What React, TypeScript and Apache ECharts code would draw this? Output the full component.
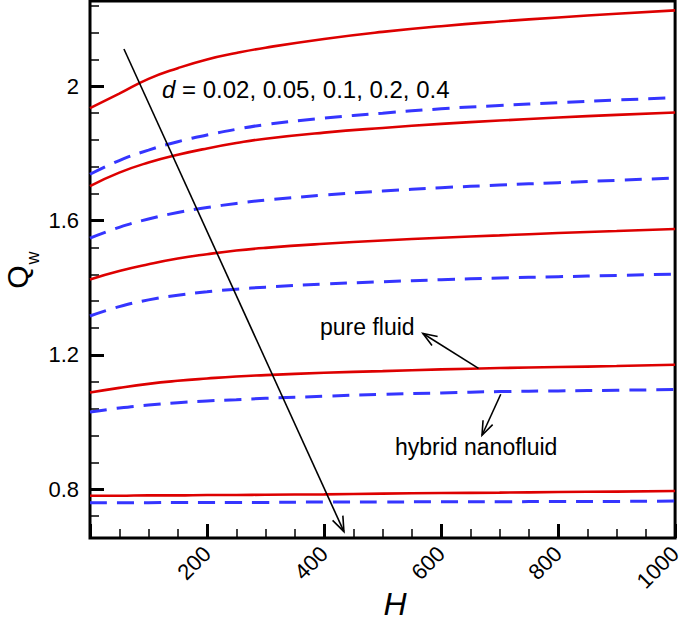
import React, { useEffect, useRef } from "react";
import * as echarts from "echarts";

const H = [0, 50, 100, 150, 200, 250, 300, 400, 500, 600, 700, 800, 900, 1000];

const pureD002 = [1.935, 1.978, 2.022, 2.054, 2.08, 2.099, 2.115, 2.141, 2.162, 2.179, 2.193, 2.205, 2.216, 2.226];
const hybridD002 = [1.738, 1.779, 1.81, 1.835, 1.855, 1.872, 1.886, 1.905, 1.92, 1.933, 1.943, 1.951, 1.959, 1.966];
const pureD005 = [1.703, 1.743, 1.773, 1.796, 1.815, 1.831, 1.844, 1.862, 1.876, 1.888, 1.898, 1.907, 1.915, 1.922];
const hybridD005 = [1.548, 1.58, 1.605, 1.624, 1.639, 1.651, 1.661, 1.676, 1.688, 1.698, 1.706, 1.713, 1.72, 1.727];
const pureD01 = [1.425, 1.45, 1.47, 1.487, 1.5, 1.511, 1.519, 1.531, 1.541, 1.549, 1.556, 1.563, 1.569, 1.575];
const hybridD01 = [1.316, 1.344, 1.364, 1.378, 1.388, 1.396, 1.402, 1.411, 1.418, 1.424, 1.429, 1.433, 1.437, 1.441];
const pureD02 = [1.088, 1.102, 1.114, 1.123, 1.13, 1.136, 1.14, 1.147, 1.152, 1.157, 1.161, 1.164, 1.167, 1.171];
const hybridD02 = [1.03, 1.042, 1.051, 1.058, 1.063, 1.067, 1.071, 1.077, 1.083, 1.087, 1.091, 1.093, 1.095, 1.097];
const pureD04 = [0.781, 0.781, 0.782, 0.782, 0.783, 0.783, 0.784, 0.785, 0.787, 0.789, 0.79, 0.792, 0.793, 0.795];
const hybridD04 = [0.76, 0.76, 0.76, 0.761, 0.761, 0.761, 0.761, 0.762, 0.762, 0.763, 0.763, 0.764, 0.764, 0.765];

const pureSeries = [pureD002, pureD005, pureD01, pureD02, pureD04];
const hybridSeries = [hybridD002, hybridD005, hybridD01, hybridD02, hybridD04];

const yMajorTicks = [0.8, 1.2, 1.6, 2.0];
const yMinorTicks = [0.72, 0.88, 0.96, 1.04, 1.12, 1.28, 1.36, 1.44, 1.52, 1.68, 1.76, 1.84, 1.92, 2.08, 2.16, 2.24];

// annotation arrows in data units [H, Qw]
const mainArrow = [[58, 2.111], [434, 0.674]];
const pureArrow = [[664, 1.16], [569, 1.264]];
const hybridArrow = [[702, 1.083], [670, 0.961]];

const FONT = "'Liberation Sans', Arial, sans-serif";
const RED = "#dd0000";
const BLUE = "#3535ff";

export default function App() {
  const ref = useRef<HTMLDivElement>(null);
  useEffect(() => {
    const chart = echarts.init(ref.current!, null, { renderer: "svg" });
    const series: any[] = [];
    pureSeries.forEach((vals, k) => {
      series.push({
        type: "line",
        name: "pure" + k,
        data: H.map((h, i) => [h, vals[i]]),
        showSymbol: false,
        smooth: 0.5,
        lineStyle: { color: RED, width: 2.6 },
        xAxisIndex: 0,
        yAxisIndex: 0,
      });
    });
    hybridSeries.forEach((vals, k) => {
      series.push({
        type: "line",
        name: "hybrid" + k,
        data: H.map((h, i) => [h, vals[i]]),
        showSymbol: false,
        smooth: 0.5,
        lineStyle: { color: BLUE, width: 3, type: [17, 10] },
        xAxisIndex: 0,
        yAxisIndex: 0,
      });
    });
    const yMin = 0.655;
    const yMax = 2.254;
    chart.setOption({
      animation: false,
      backgroundColor: "#fff",
      grid: {
        left: 90,
        right: 4,
        top: 1,
        bottom: 94,
        show: true,
        borderColor: "#000",
        borderWidth: 3,
        backgroundColor: "transparent",
      },
      xAxis: [
        {
          type: "value",
          min: 0,
          max: 1000,
          interval: 200,
          axisLine: { show: false },
          splitLine: { show: false },
          axisTick: { show: true, inside: true, length: 14, lineStyle: { color: "#000", width: 3 } },
          minorTick: { show: true, splitNumber: 4, length: 9, lineStyle: { color: "#000", width: 1.5 } },
          axisLabel: {
            rotate: 45,
            margin: 12,
            fontSize: 22,
            color: "#000",
            fontFamily: FONT,
            showMinLabel: false,
            formatter: (v: number) => String(Math.round(v)),
          },
        },
      ],
      yAxis: [
        {
          type: "value",
          min: yMin,
          max: yMax,
          axisLine: { show: false },
          splitLine: { show: false },
          axisTick: {
            show: true,
            inside: true,
            length: 14,
            customValues: yMajorTicks,
            lineStyle: { color: "#000", width: 3 },
          },
          axisLabel: {
            customValues: yMajorTicks,
            margin: 11,
            fontSize: 22,
            color: "#000",
            fontFamily: FONT,
            formatter: (v: number) => (Math.abs(v - 2) < 1e-9 ? "2" : v.toFixed(1)),
          },
        },
        {
          type: "value",
          min: yMin,
          max: yMax,
          axisLine: { show: false },
          splitLine: { show: false },
          axisTick: {
            show: true,
            inside: true,
            length: 9,
            customValues: yMinorTicks,
            lineStyle: { color: "#000", width: 1.5 },
          },
          axisLabel: { show: false },
          position: "left",
        },
      ],
      series,
    });

    const px = (p: number[]) => chart.convertToPixel({ xAxisIndex: 0, yAxisIndex: 0 }, p) as number[];
    const arrow = (a: number[], b: number[], lw: number, headLen: number) => {
      const pa = px(a);
      const pb = px(b);
      const th = Math.atan2(pb[1] - pa[1], pb[0] - pa[0]);
      const phi = 0.36;
      const h1 = [pb[0] - headLen * Math.cos(th - phi), pb[1] - headLen * Math.sin(th - phi)];
      const h2 = [pb[0] - headLen * Math.cos(th + phi), pb[1] - headLen * Math.sin(th + phi)];
      return [
        {
          type: "line",
          shape: { x1: pa[0], y1: pa[1], x2: pb[0], y2: pb[1] },
          style: { stroke: "#000", lineWidth: lw },
          z: 100,
        },
        {
          type: "polyline",
          shape: { points: [h1, pb, h2] },
          style: { stroke: "#000", lineWidth: lw, fill: null },
          z: 100,
        },
      ];
    };

    chart.setOption({
      graphic: [
        ...arrow(mainArrow[0], mainArrow[1], 1.6, 16),
        ...arrow(pureArrow[0], pureArrow[1], 1.6, 15),
        ...arrow(hybridArrow[0], hybridArrow[1], 1.6, 15),
        {
          type: "text",
          x: 162,
          y: 89,
          z: 100,
          style: {
            text: "{i|d} = 0.02, 0.05, 0.1, 0.2, 0.4",
            rich: { i: { fontStyle: "italic", fontSize: 24, fontFamily: FONT, fill: "#000" } },
            fontSize: 24,
            fontFamily: FONT,
            fill: "#000",
            align: "left",
            verticalAlign: "middle",
          },
        },
        {
          type: "text",
          x: 320,
          y: 327,
          z: 100,
          style: { text: "pure fluid", fontSize: 23, fontFamily: FONT, fill: "#000", align: "left", verticalAlign: "middle" },
        },
        {
          type: "text",
          x: 395,
          y: 447,
          z: 100,
          style: { text: "hybrid nanofluid", fontSize: 23, fontFamily: FONT, fill: "#000", align: "left", verticalAlign: "middle" },
        },
        {
          type: "text",
          x: 17,
          y: 277,
          rotation: Math.PI / 2,
          style: { text: "Q", fontSize: 30, fontFamily: FONT, fill: "#000", align: "center", verticalAlign: "middle" },
        },
        {
          type: "text",
          x: 33,
          y: 258,
          rotation: Math.PI / 2,
          style: { text: "w", fontSize: 18, fontFamily: FONT, fill: "#000", align: "center", verticalAlign: "middle" },
        },
        {
          type: "text",
          x: 395,
          y: 604,
          style: {
            text: "H",
            fontSize: 32,
            fontStyle: "italic",
            fontFamily: FONT,
            fill: "#000",
            align: "center",
            verticalAlign: "middle",
          },
        },
      ],
    });
    return () => chart.dispose();
  }, []);
  return (
    <div
      ref={ref}
      style={{ position: "fixed", left: 0, top: 0, width: 685, height: 632, background: "#fff" }}
    />
  );
}
